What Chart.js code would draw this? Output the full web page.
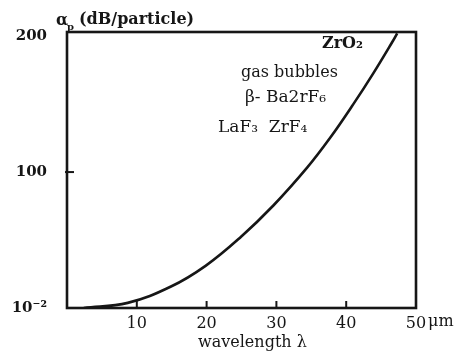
<!DOCTYPE html>
<html>
<head>
<meta charset="utf-8">
<script src="https://cdn.jsdelivr.net/npm/chart.js@4/dist/chart.umd.min.js"></script>
<style>
  html, body { margin: 0; padding: 0; background: #fff; }
  canvas { display: block; }
</style>
</head>
<body>
<canvas id="c" width="461" height="356"></canvas>
<script>
// ---- data ----
const wavelength = [2.4, 8.7, 14.9, 19.9, 24.9, 29.6, 34.4, 37.7, 41.0, 43.9, 46.6, 47.3];
const attenuation = [0.01, 0.0119, 0.0207, 0.0421, 0.111, 0.325, 1.16, 3.19, 9.9, 28.6, 82, 110];
const xTickValues = [10, 20, 30, 40, 50];
const yTickValues = [0.01, 1, 100];
const yTickLabels = ['10⁻²', '100', '200'];
const annotations = ['ZrO₂', 'gas bubbles', 'β- Ba2rF₆', 'LaF₃  ZrF₄'];

const INK = '#161616';
const SERIF = '"DejaVu Serif", "Liberation Serif", serif';

const framePlugin = {
  id: 'frame',
  afterDatasetsDraw(chart) {
    const { ctx, chartArea: a, scales } = chart;
    ctx.save();
    ctx.strokeStyle = INK;
    ctx.lineWidth = 2.6;
    ctx.strokeRect(a.left, a.top, a.right - a.left, a.bottom - a.top);
    ctx.lineWidth = 2;
    xTickValues.slice(0, 4).forEach(v => {
      const px = scales.x.getPixelForValue(v);
      ctx.beginPath(); ctx.moveTo(px, a.bottom); ctx.lineTo(px, a.bottom - 7); ctx.stroke();
    });
    const py = scales.y.getPixelForValue(1);
    ctx.beginPath(); ctx.moveTo(a.left - 2, py); ctx.lineTo(a.left + 7, py); ctx.stroke();
    ctx.restore();
  },
  afterDraw(chart) {
    const { ctx, scales } = chart;
    ctx.save();
    ctx.fillStyle = INK;
    ctx.textBaseline = 'middle';
    ctx.textAlign = 'left';
    // y title
    ctx.font = 'bold 16px ' + SERIF;
    ctx.fillText('α', 56, 21);
    ctx.font = 'bold 10px ' + SERIF;
    ctx.fillText('p', 67, 27);
    ctx.font = 'bold 16px ' + SERIF;
    ctx.fillText('(dB/particle)', 79, 20);
    // x unit and title
    ctx.font = '16px ' + SERIF;
    const p50 = scales.x.getPixelForValue(50);
    ctx.fillText('μm', p50 + 12, 322);
    ctx.font = '16px ' + SERIF;
    ctx.fillText('wavelength λ', 198, 343);
    // annotations
    ctx.font = 'bold 16px ' + SERIF;
    ctx.fillText(annotations[0], 322, 44);
    ctx.font = '16px ' + SERIF;
    ctx.fillText(annotations[1], 241, 73);
    ctx.font = '17px ' + SERIF;
    ctx.fillText(annotations[2], 245, 98);
    ctx.fillText(annotations[3], 218, 128);
    ctx.restore();
  }
};

new Chart(document.getElementById('c'), {
  type: 'line',
  data: {
    datasets: [{
      data: wavelength.map((x, i) => ({ x: x, y: attenuation[i] })),
      borderColor: INK,
      borderWidth: 2.6,
      pointRadius: 0,
      fill: false,
      tension: 0.4
    }]
  },
  options: {
    responsive: false,
    animation: false,
    layout: { padding: { left: 0, right: 45, top: 32, bottom: 0 } },
    plugins: { legend: { display: false }, tooltip: { enabled: false } },
    scales: {
      x: {
        type: 'linear', min: 0, max: 50,
        grid: { display: false }, border: { display: false },
        afterBuildTicks: s => { s.ticks = xTickValues.map(v => ({ value: v })); },
        ticks: { color: INK, font: { family: SERIF, size: 16 }, padding: -2, maxRotation: 0, autoSkip: false },
        afterFit: s => { s.height = 48; }
      },
      y: {
        type: 'logarithmic', min: 0.01, max: 115,
        grid: { display: false }, border: { display: false },
        afterBuildTicks: s => { s.ticks = yTickValues.map(v => ({ value: v })); },
        ticks: {
          color: INK, font: { family: SERIF, size: 15, weight: 'bold' }, padding: 12, autoSkip: false,
          callback: (v, i) => yTickLabels[i]
        },
        afterFit: s => { s.width = 67; }
      }
    }
  },
  plugins: [framePlugin]
});
</script>
</body>
</html>
